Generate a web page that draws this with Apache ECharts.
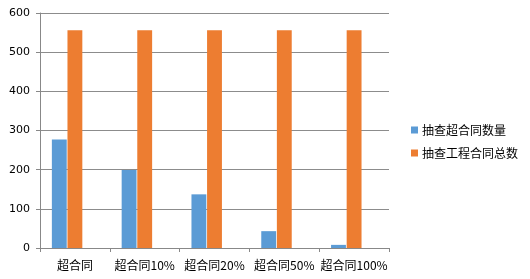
<!DOCTYPE html>
<html><head><meta charset="utf-8">
<script src="https://cdn.jsdelivr.net/npm/echarts@6/dist/echarts.min.js"></script>
<style>html,body{margin:0;padding:0;background:#fff}#c{width:530px;height:279px}</style>
</head><body><div id="c"></div>
<script>
var categories = ['超合同', '超合同10%', '超合同20%', '超合同50%', '超合同100%'];
var sampledOver = [277, 199, 137, 43, 8];
var sampledTotal = [556, 556, 556, 556, 556];
var yTicks = [0, 100, 200, 300, 400, 500, 600];
var seriesNames = ['抽查超合同数量', '抽查工程合同总数'];

var chart = echarts.init(document.getElementById('c'), null, {renderer: 'canvas'});
chart.setOption({
  animation: false,
  grid: {left: 40, right: 141, top: 13, bottom: 31},
  legend: {
    orient: 'vertical', left: 406, top: 119, itemWidth: 7, itemHeight: 7, itemGap: 11,
    icon: 'rect',
    data: seriesNames,
    textStyle: {fontFamily: 'Noto Sans CJK SC', fontSize: 12, color: '#000', padding: [0, 0, 0, -1]}
  },
  xAxis: {
    type: 'category', data: categories,
    axisLine: {lineStyle: {color: '#888'}},
    axisTick: {show: true, length: 4, lineStyle: {color: '#888'}},
    axisLabel: {interval: 0, fontFamily: 'Noto Sans CJK SC', fontSize: 12, color: '#000', margin: 11}
  },
  yAxis: {
    type: 'value', min: yTicks[0], max: yTicks[yTicks.length - 1], interval: 100,
    axisLine: {show: true, lineStyle: {color: '#888'}},
    axisTick: {show: true, length: 4, lineStyle: {color: '#888'}},
    splitLine: {lineStyle: {color: '#8c8c8c'}},
    axisLabel: {fontFamily: 'DejaVu Sans', fontSize: 11, color: '#000', margin: 10}
  },
  series: [
    {name: seriesNames[0], type: 'bar', data: sampledOver, barGap: '5%', barCategoryGap: '34%',
     itemStyle: {color: '#5b9bd5'}},
    {name: seriesNames[1], type: 'bar', data: sampledTotal, barGap: '5%',
     itemStyle: {color: '#ed7d31'}},
    {name: '', type: 'bar', data: [], barGap: '5%'}
  ]
});
</script></body></html>
